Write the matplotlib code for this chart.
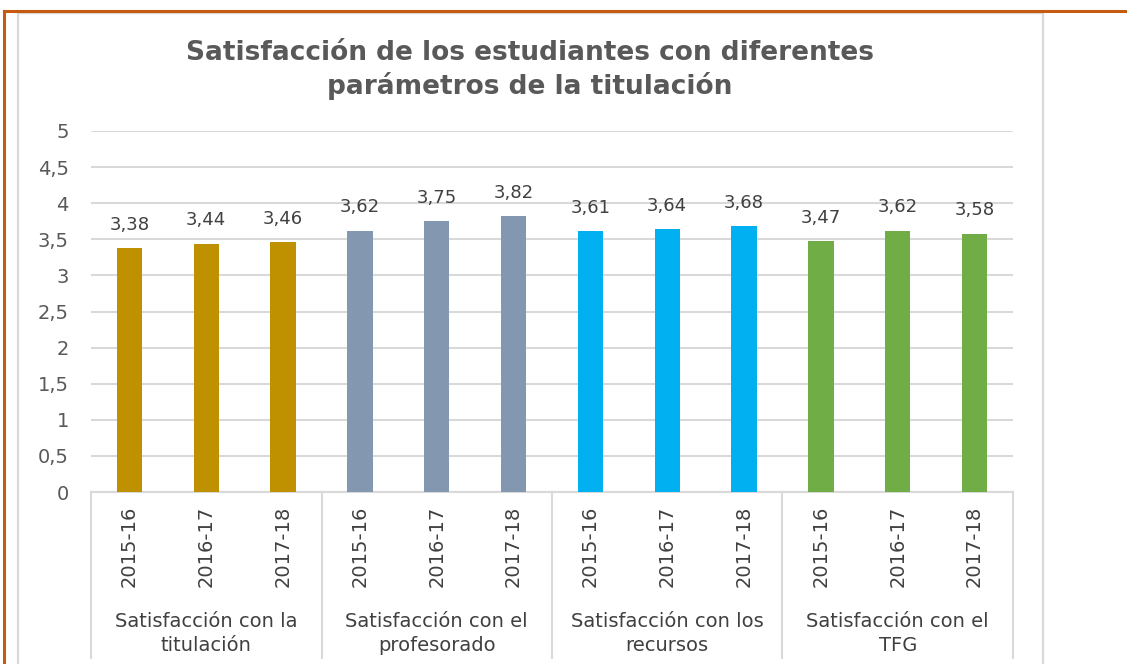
import matplotlib.pyplot as plt
from matplotlib.lines import Line2D
from matplotlib.patches import Rectangle
import numpy as np

# data
groups = ['Satisfacción con la\ntitulación', 'Satisfacción con el\nprofesorado',
          'Satisfacción con los\nrecursos', 'Satisfacción con el\nTFG']
years = ['2015-16', '2016-17', '2017-18']
titulacion = [3.38, 3.44, 3.46]
profesorado = [3.62, 3.75, 3.82]
recursos = [3.61, 3.64, 3.68]
tfg = [3.47, 3.62, 3.58]
colors = ['#BF9000', '#8497B0', '#00B0F0', '#70AD47']
yticks = [0, 0.5, 1, 1.5, 2, 2.5, 3, 3.5, 4, 4.5, 5]

plt.rcParams['font.family'] = ['DejaVu Sans']
W, H = 1127, 664
fig = plt.figure(figsize=(W / 100, H / 100), dpi=100)

# page frame (orange) and chart frame (gray)
fig.add_artist(Line2D([4 / W, 4 / W], [0, 1 - 11 / H], color='#C55A11', lw=2.2))
fig.add_artist(Line2D([4 / W, 1], [1 - 11 / H, 1 - 11 / H], color='#C55A11', lw=2.2))
fig.add_artist(Rectangle((18 / W, -0.01), (1043 - 18) / W, 1 - 13 / H + 0.01,
                         fill=False, edgecolor='#D9D9D9', lw=1.6))

ax = fig.add_axes([91 / W, 1 - 492 / H, (1013 - 91) / W, (492 - 131) / H])

series = [titulacion, profesorado, recursos, tfg]
x = 0
for vals, col in zip(series, colors):
    xs = np.arange(x, x + len(vals))
    bars = ax.bar(xs, vals, width=0.33, color=col, zorder=3)
    for b, v in zip(bars, vals):
        ax.text(b.get_x() + b.get_width() / 2, v + 0.2, f'{v:.2f}'.replace('.', ','),
                ha='center', va='bottom', fontsize=13, color='#404040')
    x += len(vals)

n = sum(len(s) for s in series)
ax.set_xlim(-0.5, n - 0.5)
ax.set_ylim(0, 5)
ax.set_yticks(yticks)
ax.set_yticklabels([f'{t:g}'.replace('.', ',') for t in yticks], fontsize=14, color='#595959')
ax.tick_params(axis='y', length=0, pad=16)
ax.set_xticks(range(n))
ax.set_xticklabels(years * len(series), rotation=90, fontsize=14, color='#404040')
ax.tick_params(axis='x', length=0, pad=10)
ax.grid(axis='y', color='#D9D9D9', lw=1.5, zorder=0)
for s in ['top', 'right', 'left']:
    ax.spines[s].set_visible(False)
ax.spines['bottom'].set_color('#D9D9D9')
ax.spines['bottom'].set_linewidth(1.5)

# group separators and labels below the axis
trans = ax.get_xaxis_transform()
for i in range(len(series) + 1):
    xp = i * 3 - 0.5
    ax.plot([xp, xp], [0, -0.46], transform=trans, color='#D9D9D9', lw=1.5, clip_on=False)
for i, g in enumerate(groups):
    ax.text(i * 3 + 1, -0.392, g, transform=trans, ha='center', va='center',
            fontsize=14, color='#404040', linespacing=1.3)

fig.text(530 / W, 1 - 70 / H, 'Satisfacción de los estudiantes con diferentes\nparámetros de la titulación',
         ha='center', va='center', fontsize=19, fontweight='bold', color='#595959', linespacing=1.3)

fig.savefig('out.png', dpi=100)
